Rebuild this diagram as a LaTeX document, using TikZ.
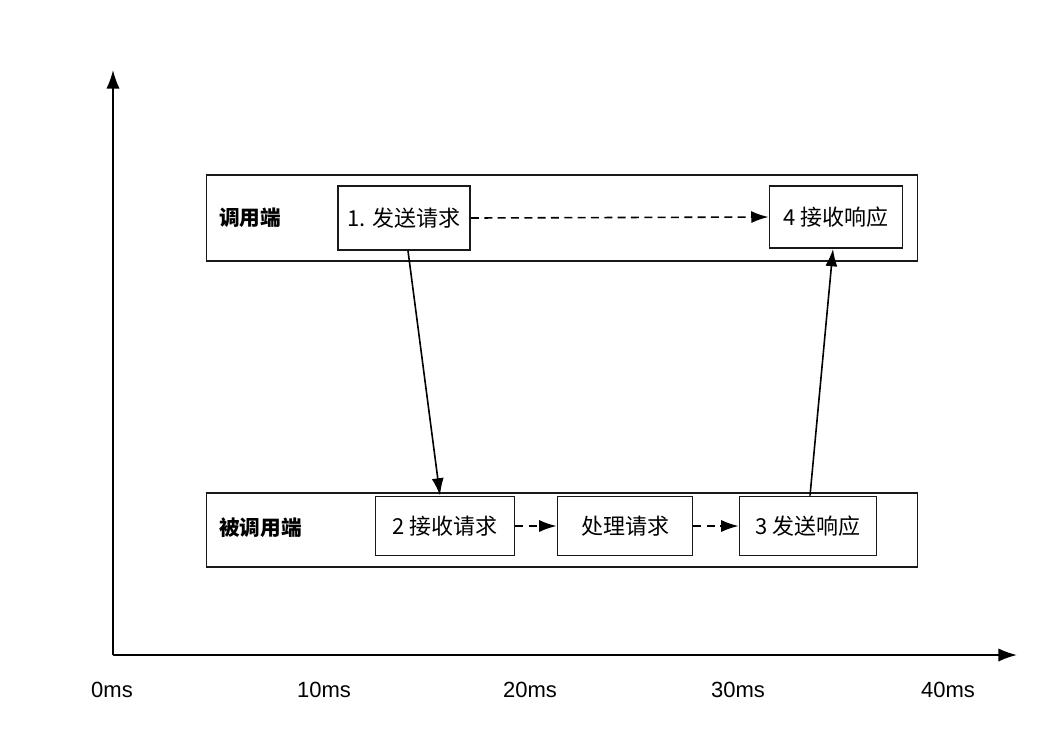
\documentclass[tikz,border=0pt]{standalone}
\usepackage{fontspec}
\setmainfont{Noto Sans CJK SC}
\newfontfamily\latinfont{Liberation Sans}
\usetikzlibrary{arrows.meta,calc}
\begin{document}
\begin{tikzpicture}[x=0.75pt,y=-0.75pt,
  frame/.style={draw=black!90,line width=1.4pt,rectangle,inner sep=0pt},
  stepbox/.style={draw=black!90,line width=1.4pt,rectangle,inner sep=0pt,font=\fontsize{16.5}{19}\selectfont},
  lanelabel/.style={font=\fontsize{15.5}{18}\selectfont\bfseries,anchor=west,inner sep=0pt},
  ticklabel/.style={font=\latinfont\fontsize{16.5}{19}\selectfont,inner sep=0pt},
  solidarrow/.style={line width=1.2pt,-{Latex[length=13pt,width=9pt]}},
  dasharrow/.style={line width=1.2pt,dash pattern=on 6pt off 4pt,-{Latex[length=13pt,width=9pt]}}
]
\useasboundingbox[fill=white] (0,0) rectangle (1044,736);

% axes
\coordinate (o) at (113,655);
\coordinate (ytip) at (113,70);
\coordinate (xtip) at (1017,655);
\draw[line width=1.4pt,-{Latex[length=14pt,width=10pt]}] (o) -- (ytip);
\draw[line width=1.4pt,-{Latex[length=14pt,width=10pt]}] (o) -- (xtip);

\node[ticklabel] (t0) at (112,690) {0ms};
\node[ticklabel] (t10) at (324,690) {10ms};
\node[ticklabel] (t20) at (530,690) {20ms};
\node[ticklabel] (t30) at (738,690) {30ms};
\node[ticklabel] (t40) at (948,690) {40ms};

% lanes
\node[frame,minimum width=711*0.75pt,minimum height=86*0.75pt] (caller) at (562,218) {};
\node[frame,minimum width=711*0.75pt,minimum height=74*0.75pt] (callee) at (562,530) {};
\node[lanelabel] (callerlbl) at (219,218) {调用端};
\node[lanelabel] (calleelbl) at (219,528) {被调用端};

% step boxes
\node[stepbox,minimum width=132*0.75pt,minimum height=64*0.75pt] (b1) at (404,218) {1. 发送请求};
\node[stepbox,minimum width=133*0.75pt,minimum height=62*0.75pt] (b4) at (836,217) {4 接收响应};
\node[stepbox,minimum width=139*0.75pt,minimum height=59*0.75pt] (b2) at (445,526) {2 接收请求};
\node[stepbox,minimum width=135*0.75pt,minimum height=59*0.75pt] (bp) at (625,526) {处理请求};
\node[stepbox,minimum width=137*0.75pt,minimum height=59*0.75pt] (b3) at (808,526) {3 发送响应};

% connectors
\draw[dasharrow] (b1.east) -- (b4.west);
\draw[dasharrow] (b2.east) -- (bp.west);
\draw[dasharrow] (bp.east) -- (b3.west);
\draw[solidarrow] ($(b1.south)+(4,0)$) -- ($(b2.north)+(-5,0)$);
\draw[solidarrow] ($(b3.north)+(2,0)$) -- ($(b4.south)+(-3,0)$);
\end{tikzpicture}
\end{document}
